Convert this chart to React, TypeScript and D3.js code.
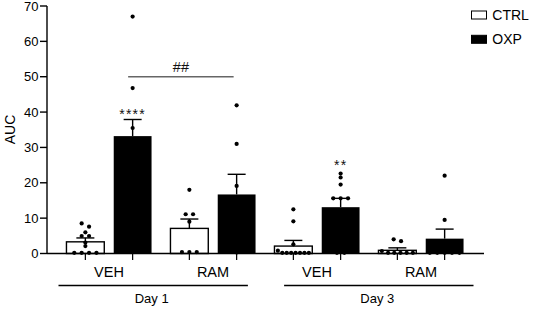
import React from "react";
import * as d3 from "d3";

// ---------- data ----------
const groupIds = ["d1-veh", "d1-ram", "d3-veh", "d3-ram"];
const groupLabels = ["VEH", "RAM", "VEH", "RAM"];
const dayLabels = ["Day 1", "Day 3"];
const seriesNames = ["CTRL", "OXP"];
const yTicks = [0, 10, 20, 30, 40, 50, 60, 70];

const ctrlMeans = [3.3, 7.1, 2.1, 0.9];
const ctrlSem = [1.1, 2.65, 1.6, 0.7];
const oxpMeans = [33.2, 16.7, 13.1, 4.2];
const oxpSem = [4.7, 5.7, 2.5, 2.7];

const ctrlPoints = [
  [8.5, 7.6, 6.0, 4.95, 4.95, 3.1, 2.1, 0.2, 0.2, 0.2, 0.2],
  [18.0, 11.1, 11.1, 9.0, 0.4, 0.4, 0.4],
  [12.5, 9.1, 2.6, 0.8, 0.2, 0.2, 0.2, 0.2, 0.2, 0.2, 0.2],
  [4.0, 3.5, 0.7, 0.2, 0.2, 0.2, 0.2, 0.2],
];
const oxpPoints = [
  [67.0, 46.8, 35.5, 31, 29, 27, 25, 22, 20],
  [41.9, 31.0, 19.1, 15, 12, 10, 8, 0.3],
  [22.6, 21.5, 19.5, 15.6, 15.6, 15.6, 12, 10, 8, 5, 0.2, 0.2],
  [22.0, 9.5, 0.2, 0.2, 0.2, 0.2, 0.2],
];

// significance annotations
const starLabels = ["****", "**"];
const starGroups = [0, 2];
const starValues = [38.3, 23.9];
const hashLabel = "##";
const hashValue = 50;

// ---------- layout ----------
const W = 533;
const H = 311;
const FONT = "'Liberation Sans', Arial, Helvetica, sans-serif";

const y = d3.scaleLinear().domain([0, 70]).range([253.5, 6]);
const xGroup = d3.scaleBand<string>().domain(groupIds).range([57, 473]).padding(0);
const xInner = d3
  .scaleBand<string>()
  .domain(seriesNames)
  .range([0, xGroup.bandwidth()])
  .paddingInner(0.2)
  .paddingOuter(0.2);

const AXIS_X0 = 47;
const AXIS_X1 = 484;
const DOT_R = 2.1;
const DOT_STEP = 7.4;
const MAX_SPAN = 31;

function barX(gi: number, s: string) {
  return (xGroup(groupIds[gi]) as number) + (xInner(s) as number);
}
function barCenter(gi: number, s: string) {
  return barX(gi, s) + xInner.bandwidth() / 2;
}
function groupCenter(gi: number) {
  return (xGroup(groupIds[gi]) as number) + xGroup.bandwidth() / 2;
}

function swarm(values: number[], cx: number) {
  const sorted = [...values].sort((a, b) => b - a);
  const clusters: number[][] = [];
  for (const v of sorted) {
    const last = clusters[clusters.length - 1];
    if (last && Math.abs(y(v) - y(last[0])) <= 3.5) last.push(v);
    else clusters.push([v]);
  }
  const out: { x: number; y: number }[] = [];
  for (const c of clusters) {
    const n = c.length;
    const step = n > 1 ? Math.min(DOT_STEP, MAX_SPAN / (n - 1)) : 0;
    c.forEach((v, i) => {
      out.push({ x: cx + (i - (n - 1) / 2) * step, y: y(v) });
    });
  }
  return out;
}

export default function App() {
  const barW = xInner.bandwidth();
  const capW = 18;

  const bars: React.ReactNode[] = [];
  const errs: React.ReactNode[] = [];
  const dots: React.ReactNode[] = [];
  const xticks: React.ReactNode[] = [];

  groupIds.forEach((_, gi) => {
    seriesNames.forEach((s, si) => {
      const mean = si === 0 ? ctrlMeans[gi] : oxpMeans[gi];
      const sem = si === 0 ? ctrlSem[gi] : oxpSem[gi];
      const pts = si === 0 ? ctrlPoints[gi] : oxpPoints[gi];
      const x0 = barX(gi, s);
      const cx = barCenter(gi, s);
      bars.push(
        <rect
          key={`b${gi}${si}`}
          x={x0}
          y={y(mean)}
          width={barW}
          height={y(0) - y(mean)}
          fill={si === 0 ? "#fff" : "#000"}
          stroke="#000"
          strokeWidth={si === 0 ? 1.4 : 0}
        />
      );
      errs.push(
        <g key={`e${gi}${si}`} stroke="#000" strokeWidth={1.4}>
          <line x1={cx} x2={cx} y1={y(mean)} y2={y(mean + sem)} />
          <line x1={cx - capW / 2} x2={cx + capW / 2} y1={y(mean + sem)} y2={y(mean + sem)} />
        </g>
      );
      swarm(pts, cx).forEach((p, k) =>
        dots.push(<circle key={`d${gi}${si}${k}`} cx={p.x} cy={p.y} r={DOT_R} fill="#000" />)
      );
      xticks.push(
        <line key={`t${gi}${si}`} x1={cx} x2={cx} y1={y(0)} y2={y(0) + 6.5} stroke="#000" strokeWidth={1.2} />
      );
    });
  });

  // day underline spans (annotation offsets relative to day centers)
  const dayCenters = [
    (groupCenter(0) + groupCenter(1)) / 2 - 7.8,
    (groupCenter(2) + groupCenter(3)) / 2 + 9.8,
  ];
  const dayHalf = 94.7;

  const hashX0 = barCenter(0, "OXP") - 4.5;
  const hashX1 = barCenter(1, "OXP") - 3;

  return (
    <svg
      width={W}
      height={H}
      style={{ position: "absolute", left: 0, top: 0, background: "#fff" }}
      fontFamily={FONT}
    >
      <rect x={0} y={0} width={W} height={H} fill="#fff" />

      {/* y axis */}
      <line x1={AXIS_X0} x2={AXIS_X0} y1={y(70)} y2={y(0)} stroke="#000" strokeWidth={1.4} />
      {yTicks.map((t) => (
        <g key={`yt${t}`}>
          <line x1={AXIS_X0 - 7} x2={AXIS_X0} y1={y(t)} y2={y(t)} stroke="#000" strokeWidth={1.4} />
          <text x={38.5} y={y(t)} dy="0.36em" textAnchor="end" fontSize={13} fill="#000">
            {t}
          </text>
        </g>
      ))}
      <text
        transform={`translate(15,129.5) rotate(-90)`}
        textAnchor="middle"
        fontSize={14}
        fill="#000"
      >
        AUC
      </text>

      {bars}
      {errs}
      {dots}

      {/* x axis */}
      <line x1={AXIS_X0} x2={AXIS_X1} y1={y(0)} y2={y(0)} stroke="#000" strokeWidth={1.4} />
      {xticks}

      {groupLabels.map((g, gi) => (
        <text key={`gl${gi}`} x={groupCenter(gi)} y={276.5} textAnchor="middle" fontSize={14.5} fill="#000">
          {g}
        </text>
      ))}

      {dayLabels.map((d, di) => (
        <g key={`day${di}`}>
          <line
            x1={dayCenters[di] - dayHalf}
            x2={dayCenters[di] + dayHalf}
            y1={285.5}
            y2={285.5}
            stroke="#000"
            strokeWidth={1.6}
          />
          <text x={dayCenters[di] - 1.5} y={302.5} textAnchor="middle" fontSize={13} fill="#000">
            {d}
          </text>
        </g>
      ))}

      {/* significance */}
      {starLabels.map((s, i) => (
        <text
          key={`st${i}`}
          x={barCenter(starGroups[i], "OXP")}
          y={y(starValues[i]) + 1}
          textAnchor="middle"
          fontSize={14}
          letterSpacing={1.2}
          fill="#111"
        >
          {s}
        </text>
      ))}
      <line x1={hashX0} x2={hashX1} y1={y(hashValue)} y2={y(hashValue)} stroke="#666" strokeWidth={1.5} />
      <text x={(hashX0 + hashX1) / 2} y={y(hashValue) - 5} textAnchor="middle" fontSize={14.5} fill="#111">
        {hashLabel}
      </text>

      {/* legend */}
      {seriesNames.map((s, i) => (
        <g key={`lg${s}`}>
          <rect
            x={471.5}
            y={11 + i * 24.3}
            width={15}
            height={8}
            fill={i === 0 ? "#fff" : "#000"}
            stroke="#000"
            strokeWidth={1}
          />
          <text x={492.3} y={20 + i * 24.3} fontSize={14} fill="#000">
            {s}
          </text>
        </g>
      ))}
    </svg>
  );
}
